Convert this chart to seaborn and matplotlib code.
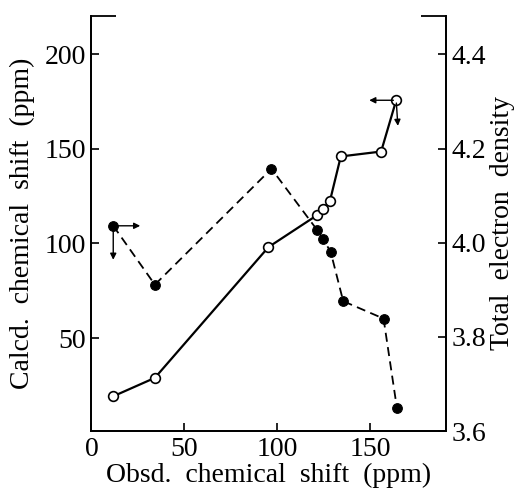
import numpy as np
import pandas as pd
import seaborn as sns
import matplotlib.pyplot as plt

# open circles, left axis (calcd. shift)
obsd_open = [11.8, 34.1, 95.2, 121.4, 124.4, 128.2, 134.1, 155.8, 163.9]
calcd_shift = [19.3, 29.0, 98.1, 115.0, 118.2, 122.2, 146.0, 148.6, 175.7]

# filled circles, right axis (electron density)
obsd_filled = [11.7, 34.1, 96.8, 121.4, 124.8, 128.7, 135.4, 157.1, 164.3]
density = [4.036, 3.911, 4.157, 4.027, 4.007, 3.980, 3.876, 3.839, 3.649]

shift_df = pd.DataFrame({"obsd": obsd_open, "calcd": calcd_shift})
dens_df = pd.DataFrame({"obsd": obsd_filled, "density": density})

sns.set_style("ticks", {"axes.edgecolor": "black", "text.color": "black",
                        "xtick.color": "black", "ytick.color": "black",
                        "axes.labelcolor": "black"})
plt.rcParams['font.family'] = ['Liberation Serif', 'DejaVu Serif']
plt.rcParams['font.size'] = 20

fig = plt.figure(figsize=(5.14, 4.9), dpi=100)
ax = fig.add_axes([0.178, 0.120, 0.689, 0.848])
ax2 = ax.twinx()

sns.lineplot(data=shift_df, x="obsd", y="calcd", ax=ax, color="black", lw=1.6,
             marker="o", markersize=7, markerfacecolor="white",
             markeredgecolor="black", markeredgewidth=1.2, zorder=3)
sns.lineplot(data=dens_df, x="obsd", y="density", ax=ax2, color="black", lw=1.3,
             linestyle=(0, (5, 3)), marker="o", markersize=7,
             markerfacecolor="black", markeredgecolor="black", zorder=3)

ax.set_xlim(0, 190.5)
ax.set_ylim(0.8, 220.4)
ax2.set_ylim(3.6, 4.482)

ax.set_xticks([0, 50, 100, 150])
ax.set_yticks([50, 100, 150, 200])
ax2.set_yticks([3.6, 3.8, 4.0, 4.2, 4.4])
ax2.set_yticklabels(["3.6", "3.8", "4.0", "4.2", "4.4"])

# short stubs at the top corners instead of a full top spine
ax.set_yticks([220.4], minor=True)
ax2.set_yticks([4.482], minor=True)

for a in (ax, ax2):
    a.tick_params(which="major", direction="in", length=6, width=1.2, labelsize=20, pad=4)
    a.tick_params(which="minor", direction="in", length=18, width=1.3)
    for s in a.spines.values():
        s.set_linewidth(1.3)
    a.spines["top"].set_visible(False)

ax.set_xlabel("Obsd.  chemical  shift  (ppm)", fontsize=20, labelpad=1)
ax.set_ylabel("Calcd.  chemical  shift  (ppm)", fontsize=20, labelpad=7)
ax2.set_ylabel("Total  electron  density", fontsize=20, labelpad=3)

# arrows telling which axis each curve belongs to
arr = dict(arrowstyle="-|>", color="black", lw=1.0, mutation_scale=9)
ax2.annotate("", xy=(obsd_filled[0] + 16, density[0]), xytext=(obsd_filled[0], density[0]), arrowprops=arr)
ax2.annotate("", xy=(obsd_filled[0], density[0] - 0.078), xytext=(obsd_filled[0], density[0]), arrowprops=arr)
ax.annotate("", xy=(obsd_open[-1] - 16, calcd_shift[-1]), xytext=(obsd_open[-1], calcd_shift[-1]), arrowprops=arr)
ax.annotate("", xy=(obsd_open[-1] + 1, calcd_shift[-1] - 15), xytext=(obsd_open[-1], calcd_shift[-1]), arrowprops=arr)

fig.savefig("out.png", dpi=100)
